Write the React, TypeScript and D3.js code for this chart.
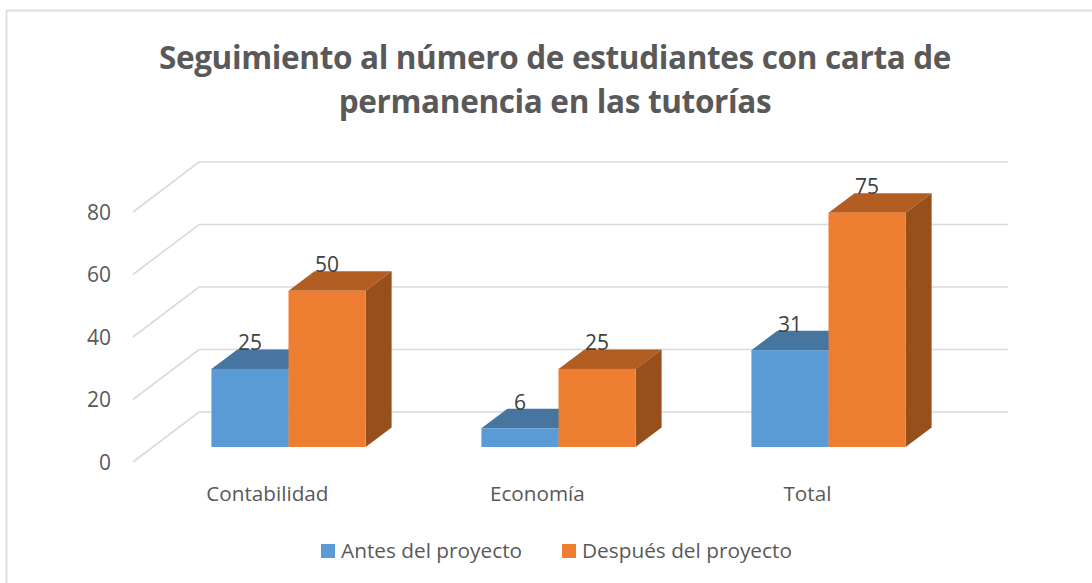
import React from "react";
import * as d3 from "d3";

const categories = ["Contabilidad", "Economía", "Total"];
const seriesNames = ["Antes del proyecto", "Después del proyecto"];
const antes = [25, 6, 31];
const despues = [50, 25, 75];
const yTicks = [0, 20, 40, 60, 80];
const titleLines = ["Seguimiento al número de estudiantes con carta de", "permanencia en las tutorías"];

const FONT = "'Open Sans', sans-serif";
const W = 1092, H = 583;
const front = ["#5b9bd5", "#ed7d31"];
const topC = ["#4675a0", "#b25e22"];
const sideC = ["#3f6a92", "#974f1b"];

const y = d3.scaleLinear().domain([0, 80]).range([447, 197]);
const x0 = d3.scaleBand<string>().domain(categories).range([153.4, 963.4]).paddingInner(0).paddingOuter(0);
const x1 = d3.scaleBand<number>().domain([0, 1]).range([58, 212.2]);
const dx = 26, dy = 19.4;
const gridBackDy = -35, gridFrontDy = 15, wallLeft = 133, wallRight = 199, gridEnd = 1008;
const poly = (pts: number[][]) => d3.line()(pts as [number, number][]) + "Z";

export default function App() {
  const series = [antes, despues];
  return (
    <svg width={W} height={H} style={{ position: "absolute", left: 0, top: 0, background: "#fff" }}>
      <path d={`M6.5,${H}V10.5H${W}`} fill="none" stroke="#dedede" strokeWidth={2} />
      {titleLines.map((t, i) => (
        <text key={t} x={555} y={68.5 + i * 44} textAnchor="middle" fontFamily={FONT} fontWeight={700} fontSize={31.5} letterSpacing={-0.35} fill="#595959">{t}</text>
      ))}
      {yTicks.map((t) => (
        <g key={t}>
          <path d={`M${wallLeft},${y(t) + gridFrontDy}L${wallRight},${y(t) + gridBackDy}H${gridEnd}`} fill="none" stroke="#dadada" strokeWidth={1.6} />
          <text x={111} y={y(t) + 22.5} textAnchor="end" fontFamily={FONT} fontSize={21} fill="#595959">{t}</text>
        </g>
      ))}
      {categories.map((c, ci) => (
        <g key={c}>
          {series.map((vals, si) => {
            const xl = x0(c)! + x1(si)!;
            const xr = xl + x1.bandwidth();
            const yt = y(vals[ci]);
            const yb = y(0);
            return (
              <g key={si}>
                <path d={poly([[xl, yt], [xr, yt], [xr + dx, yt - dy], [xl + dx, yt - dy]])} fill={topC[si]} />
                <path d={poly([[xr, yt], [xr + dx, yt - dy], [xr + dx, yb - dy], [xr, yb]])} fill={sideC[si]} />
                <rect x={xl} y={yt} width={xr - xl} height={yb - yt} fill={front[si]} />
              </g>
            );
          })}
          {series.map((vals, si) => {
            const xl = x0(c)! + x1(si)!;
            return (
              <text key={si} x={xl + x1.bandwidth() / 2} y={y(vals[ci]) - 18.5} textAnchor="middle" fontFamily={FONT} fontSize={21} fill="#404040">{vals[ci]}</text>
            );
          })}
          <text x={x0(c)! + x0.bandwidth() / 2 - 21} y={501} textAnchor="middle" fontFamily={FONT} fontSize={20.7} fill="#595959">{c}</text>
        </g>
      ))}
      {seriesNames.map((s, i) => {
        const lx = [321, 562][i];
        return (
          <g key={s}>
            <rect x={lx} y={544} width={14} height={14} fill={front[i]} />
            <text x={lx + 20} y={558} fontFamily={FONT} fontSize={20.8} fill="#595959">{s}</text>
          </g>
        );
      })}
    </svg>
  );
}
